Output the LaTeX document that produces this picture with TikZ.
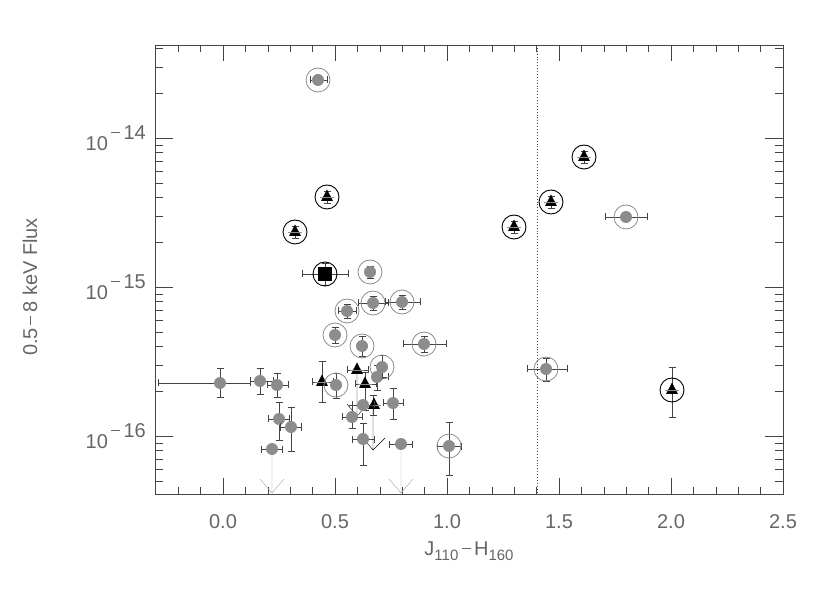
\documentclass[tikz,border=0pt]{standalone}
\usepackage{fontspec}
\setmainfont{Liberation Sans}
\definecolor{lab}{HTML}{666666}
\definecolor{pt}{HTML}{8C8C8C}
\definecolor{eb}{HTML}{444444}
\newcommand\XE[3]{\draw[ebar] (#1,#3)--(#2,#3) (#1,#3-3.5)--(#1,#3+3.5) (#2,#3-3.5)--(#2,#3+3.5);}
\newcommand\YE[3]{\draw[ebar] (#3,#1)--(#3,#2) (#3-3.5,#1)--(#3+3.5,#1) (#3-3.5,#2)--(#3+3.5,#2);}
\newcommand\GP[2]{\fill[pt] (#1,#2) circle (6);}
\newcommand\GR[2]{\draw[pt,line width=0.8pt] (#1,#2) circle (12);}
\newcommand\BR[2]{\draw[black,line width=0.9pt] (#1,#2) circle (12);}
\newcommand\TR[2]{\fill (#1,#2)++(0,-7.5)--++(6,11.5)--++(-12,0)--cycle;\draw[pt,line width=0.7pt] (#1-7,#2)--(#1+7,#2);}
\newcommand\SB[1]{\raisebox{-5pt}{\fontsize{15}{16}\selectfont #1}}
\begin{document}
\begin{tikzpicture}[x=1pt,y=-1pt,ebar/.style={eb,line width=0.6pt},lab/.style={text=lab,font=\fontsize{20}{22}\selectfont}]
\useasboundingbox (0,0) rectangle (830,593);
% frame
\draw[eb,line width=0.7pt] (155,45) rectangle (783,494);
% x ticks
\foreach \i in {-2,...,25}{
  \pgfmathsetmacro\xx{223+22.4*\i}
  \pgfmathtruncatemacro\m{mod(\i+20,5)==0 ? 1 : 0}
  \ifnum\m=1
    \draw[eb] (\xx,494)--(\xx,478) (\xx,45)--(\xx,61);
  \else
    \draw[eb] (\xx,494)--(\xx,487) (\xx,45)--(\xx,52);
  \fi}
\foreach \v/\t in {0/0.0,5/0.5,10/1.0,15/1.5,20/2.0,25/2.5}
  \node[lab] at (223+22.4*\v,522) {\t};
% y ticks
\foreach \d/\yy in {14/138,15/287,16/436}{
  \draw[eb] (155,\yy)--(173,\yy) (783,\yy)--(765,\yy);
  \node[lab,anchor=east,inner sep=0pt] at (146,\yy) {10\raisebox{11pt}{\,\rule[6.5pt]{9pt}{0.6pt}\,\d}};}
\foreach \d in {-13,-14,-15,-16}{
  \foreach \k in {2,...,9}{
    \pgfmathsetmacro\yy{138+149*(-14-\d)-149*log10(\k)+149}
    \pgfmathparse{(\yy>45 && \yy<494) ? 1 : 0}
    \ifnum\pgfmathresult=1 \draw[eb] (155,\yy)--(163,\yy) (783,\yy)--(775,\yy);\fi}}
\node[lab,rotate=90] at (30,287) {0.5\,\rule[6.5pt]{9pt}{0.6pt}\,8 keV Flux};
\node[lab] at (469,551) {J\SB{110}\,\rule[6.5pt]{9pt}{0.6pt}\,H\SB{160}};
% dotted line
\draw[eb,dotted,line width=0.9pt] (537,45)--(537,494);
% upper ringed
\XE{310}{327}{80}\GP{318}{80}\GR{318}{80}
\YE{151}{163}{584}\TR{584}{157}\BR{584}{157}
\YE{191}{203}{327}\TR{327}{197}\BR{327}{197}
\YE{196}{208}{551}\TR{551}{202}\BR{551}{202}
\YE{226}{238}{295}\TR{295}{232}\BR{295}{232}
\YE{221}{233}{514}\TR{514}{227}\BR{514}{227}
\XE{605}{647}{217}\GP{626}{217}\GR{626}{217}
\XE{302}{348}{274}\YE{263}{285}{325}\fill (318,267) rectangle (332,281);\BR{325}{274}
\YE{266}{278}{370}\GP{370}{272}\GR{370}{272}
\XE{358}{388}{303}\YE{296}{310}{373}\GP{373}{303}\GR{373}{303}
\XE{385}{420}{302}\YE{295}{309}{402}\GP{402}{302}\GR{402}{302}
\YE{304}{318}{347}\XE{338}{356}{311}\GP{347}{311}\GR{347}{311}
\YE{327}{343}{335}\GP{335}{335}\GR{335}{335}
\YE{336}{356}{362}\GP{362}{346}\GR{362}{346}
\XE{403}{446}{344}\YE{336}{352}{424}\GP{424}{344}\GR{424}{344}
\XE{527}{567}{369}\YE{358}{381}{546}\GP{546}{369}\GR{546}{369}
\YE{367}{417}{672}\TR{672}{390}\BR{672}{390}
% lower cluster
\XE{158}{250}{383}\YE{368}{397}{220}\GP{220}{383}
\XE{250}{273}{381}\YE{368}{394}{260}\GP{260}{381}
\XE{267}{288}{385}\YE{373}{397}{277}\GP{277}{385}
\XE{312}{333}{382}\YE{361}{402}{322}\TR{322}{382}
\YE{373}{398}{336}\GP{336}{385}\GR{336}{385}
\draw[black] (357,370)--(357,416) (347,404)--(357,416)--(368,404);
\XE{347}{368}{370}\TR{357}{370}
\XE{355}{376}{384}\YE{372}{410}{365}\TR{365}{384}
\draw[black] (373,405)--(373,450) (363,438)--(373,450)--(385,438);
\YE{395}{415}{373}\TR{374}{405}
\XE{372}{388}{377}\YE{365}{390}{377}\GP{377}{377}
\YE{355}{378}{382}\GP{382}{367}\GR{382}{367}
\XE{383}{403}{403}\YE{388}{419}{393}\GP{393}{403}
\XE{342}{362}{417}\YE{405}{428}{352}\GP{352}{417}
\XE{352}{374}{405}\GP{363}{405}
\XE{268}{289}{419}\YE{402}{440}{279}\GP{279}{419}
\XE{280}{301}{427}\YE{407}{451}{291}\GP{291}{427}
\draw[pt!80] (272,449)--(272,493) (260,479)--(272,493)--(284,479);
\XE{261}{282}{449}\GP{272}{449}
\YE{423}{465}{363}\XE{352}{374}{439}\GP{363}{439}
\draw[pt!80] (401,444)--(401,493) (389,479)--(401,493)--(413,479);
\XE{389}{412}{444}\GP{401}{444}
\YE{422}{475}{449}\XE{437}{461}{446}\GP{449}{446}\GR{449}{446}
\end{tikzpicture}
\end{document}
